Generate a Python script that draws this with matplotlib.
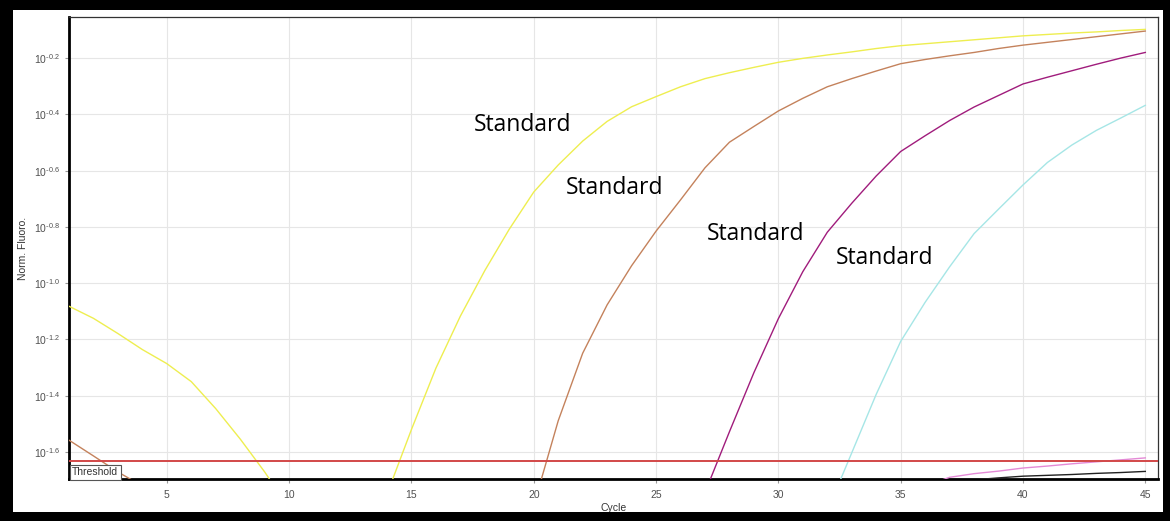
import matplotlib
matplotlib.use('Agg')
import matplotlib.pyplot as plt
from matplotlib.patches import Rectangle
from matplotlib.ticker import FixedLocator, FixedFormatter, NullLocator
import numpy as np

nan = np.nan

# cycles 1..45, values are log10(Norm. Fluoro.)
cycles = list(range(1, 46))

yellow_log = [-1.082, -1.125, -1.179, -1.236, -1.286, -1.350, -1.446, -1.554, -1.671, -1.80,
              nan, nan, nan, -1.75, -1.52, -1.302, -1.117, -0.955, -0.808, -0.676,
              -0.580, -0.495, -0.425, -0.373, -0.337, -0.302, -0.273, -0.252, -0.233, -0.215,
              -0.201, -0.189, -0.178, -0.166, -0.156, -0.149, -0.142, -0.135, -0.128, -0.121,
              -0.116, -0.111, -0.107, -0.102, -0.098]

brown_log = [-1.558, -1.614, -1.671, -1.721, nan, nan, nan, nan, nan, nan,
             nan, nan, nan, nan, nan, nan, nan, nan, nan, -1.79,
             -1.489, -1.249, -1.077, -0.938, -0.815, -0.704, -0.590, -0.499, -0.443, -0.388,
             -0.343, -0.302, -0.273, -0.246, -0.220, -0.205, -0.192, -0.180, -0.166, -0.154,
             -0.144, -0.134, -0.124, -0.114, -0.104]

purple_log = [nan] * 26 + [-1.744, -1.528, -1.318, -1.126, -0.959, -0.819, -0.716, -0.619, -0.532,
                           -0.476, -0.422, -0.374, -0.333, -0.292, -0.268, -0.245, -0.222, -0.200,
                           -0.180]

cyan_log = [nan] * 31 + [-1.81, -1.603, -1.395, -1.207, -1.068, -0.942, -0.824, -0.737, -0.651,
                         -0.571, -0.509, -0.457, -0.413, -0.368]

pink_log = [nan] * 35 + [-1.72, -1.690, -1.677, -1.668, -1.657, -1.650, -1.642, -1.635, -1.628,
                         -1.621]

black_log = [nan] * 37 + [-1.699, -1.692, -1.686, -1.683, -1.680, -1.676, -1.673, -1.669]

threshold_log = -1.632

series = [
    (yellow_log, '#eeee50'),
    (brown_log, '#c4825c'),
    (purple_log, '#a01c7c'),
    (cyan_log, '#a6e6e6'),
    (pink_log, '#e48ad6'),
    (black_log, '#222222'),
]

labels = ['Standard', 'Standard', 'Standard', 'Standard']
label_x = [19.54, 23.32, 29.07, 34.36]
label_log = [-0.439, -0.661, -0.825, -0.911]

ytick_log = [-0.2, -0.4, -0.6, -0.8, -1.0, -1.2, -1.4, -1.6]
xticks = [5, 10, 15, 20, 25, 30, 35, 40, 45]

plt.rcParams['font.family'] = ['Liberation Sans', 'DejaVu Sans']
plt.rcParams['mathtext.default'] = 'regular'

fig = plt.figure(figsize=(11.7, 5.21), dpi=100)
fig.patch.set_facecolor('white')
W, H = 1170, 521
ax = fig.add_axes([69 / W, 42 / H, (1158 - 69) / W, (479 - 17) / H])

for vals, col in series:
    ax.plot(cycles, 10 ** np.array(vals), color=col, lw=1.0, zorder=3,
            solid_joinstyle='round')

ax.axhline(10 ** threshold_log, color='#d24848', lw=1.4, zorder=4)

ax.set_yscale('log')
ax.set_xlim(1, 45.52)
ax.set_ylim(10 ** -1.696, 10 ** -0.054)

# short hyphen in the exponent, like the instrument software
ax.yaxis.set_major_locator(FixedLocator([10 ** v for v in ytick_log]))
ax.yaxis.set_major_formatter(FixedFormatter([r'$10^{\text{-}%.1f}$' % abs(v) for v in ytick_log]))
ax.yaxis.set_minor_locator(NullLocator())
ax.set_xticks(xticks)
ax.tick_params(axis='both', labelsize=7.5, labelcolor='#505050', color='#999999', length=3, width=0.8)
ax.tick_params(axis='x', pad=5)

ax.grid(True, color='#e6e6e6', lw=0.8, zorder=0)
ax.set_axisbelow(True)

for side in ['left', 'bottom']:
    ax.spines[side].set_linewidth(2.0)
    ax.spines[side].set_color('black')
for side in ['top', 'right']:
    ax.spines[side].set_linewidth(0.9)
    ax.spines[side].set_color('#333333')

ax.set_xlabel('Cycle', fontsize=7.5, color='#333333', labelpad=2)
ax.set_ylabel('Norm. Fluoro.', fontsize=7.5, color='#333333', labelpad=4)

for txt, x, v in zip(labels, label_x, label_log):
    ax.text(x, 10 ** v, txt, fontsize=16.5, family=['Open Sans', 'DejaVu Sans'],
            ha='center', va='center', color='black', zorder=5)

ax.text(0.003, 0.004, 'Threshold', transform=ax.transAxes, fontsize=7.5, color='#333333',
        ha='left', va='bottom', zorder=6,
        bbox=dict(facecolor='white', edgecolor='#555555', boxstyle='square,pad=0.25', lw=0.8))

# black picture frame
frame = [(0, 0, 13, H), (0, H - 10, W, 10), (W - 7, 0, 7, H), (0, 0, W, 9)]
for x0, y0, w, h in frame:
    fig.add_artist(Rectangle((x0 / W, y0 / H), w / W, h / H, transform=fig.transFigure,
                             facecolor='black', edgecolor='none', zorder=10))

fig.savefig('out.png', dpi=100)
